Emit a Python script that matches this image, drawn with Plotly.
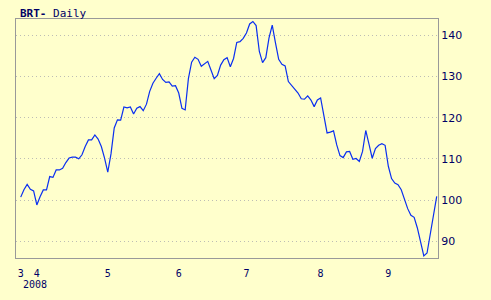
import plotly.graph_objects as go

# Brent daily close, trading-day index from late March to late September 2008
prices = [
    100.7, 102.5, 103.8, 102.6, 102.2, 98.8, 100.8, 102.45, 102.45, 105.7,
    105.5, 107.3, 107.3, 107.7, 109.1, 110.2, 110.4, 110.4, 110.0, 111.0,
    113.0, 114.6, 114.6, 115.8, 114.8, 113.0, 110.2, 106.8, 111.2, 117.5,
    119.5, 119.4, 122.6, 122.4, 122.6, 120.9, 122.3, 122.7, 121.7, 123.3,
    126.4, 128.4, 129.6, 130.7, 129.3, 128.6, 128.7, 127.7, 127.8, 126.0,
    122.3, 121.9, 129.5, 133.5, 134.7, 134.2, 132.5, 133.0, 133.7, 131.6,
    129.5, 130.3, 132.8, 134.1, 134.6, 132.4, 134.4, 138.3, 138.5, 139.3,
    140.6, 142.8, 143.4, 142.4, 136.1, 133.4, 134.6, 139.4, 142.5, 138.2,
    134.2, 133.0, 132.6, 128.8, 127.9, 126.9, 126.0, 124.6, 124.5, 125.3,
    124.3, 122.7, 124.3, 124.8, 120.9, 116.3, 116.5, 116.8, 113.4, 110.8,
    110.3, 111.7, 111.8, 109.9, 110.1, 109.4, 111.8, 116.9, 113.6, 110.15,
    112.5, 113.3, 113.7, 113.3, 108.2, 105.2, 104.1, 103.7, 102.5, 100.2,
    97.9, 96.3, 95.8, 93.2, 89.4, 86.4, 87.1, 91.9, 96.4, 100.9,
]
days = list(range(len(prices)))

month_tick_days = [0, 5, 27, 49, 70, 93, 114]
month_tick_labels = ["3", "4", "5", "6", "7", "8", "9"]
year_label = "2008"

y_ticks = [90, 100, 110, 120, 130, 140]

bg = "#FFFFCC"
navy = "#000066"
font_family = "DejaVu Sans, Verdana, sans-serif"
mono = "DejaVu Sans Mono, monospace"

fig = go.Figure()
fig.add_trace(go.Scatter(
    x=days, y=prices, mode="lines",
    line=dict(color="#0A2FF0", width=1.2),
    hoverinfo="skip", showlegend=False,
))

fig.update_layout(
    width=491, height=300,
    margin=dict(l=16, r=53, t=19, b=42),
    paper_bgcolor=bg, plot_bgcolor=bg,
    font=dict(family=font_family, size=10, color=navy),
    showlegend=False,
)

fig.update_xaxes(
    range=[-1.46, 129.4],
    tickmode="array", tickvals=month_tick_days, ticktext=month_tick_labels,
    showgrid=False, zeroline=False,
    showline=True, linecolor="#999999", linewidth=1, mirror=True,
    ticks="outside", ticklen=6, tickcolor=bg,
    tickfont=dict(family=mono, size=10, color=navy),
)
fig.update_yaxes(
    range=[85.9, 144],
    side="right",
    tickmode="array", tickvals=y_ticks, ticktext=[str(v) for v in y_ticks],
    showgrid=True, gridcolor="#BDBDB5", griddash="1px,3px", gridwidth=1,
    zeroline=False,
    showline=True, linecolor="#999999", linewidth=1, mirror=True,
    ticks="",
    tickfont=dict(family=font_family, size=11, color=navy),
)

fig.add_annotation(
    x=0, xref="x", xanchor="left",
    y=0, yref="paper", yanchor="top", yshift=-19,
    text=year_label, showarrow=False,
    font=dict(family=mono, size=10, color=navy),
)
fig.add_annotation(
    x=0, xref="paper", xanchor="left", xshift=2,
    y=1.0, yref="paper", yanchor="bottom", yshift=-3,
    text="<b>BRT-</b> Daily", showarrow=False,
    font=dict(family=mono, size=11, color=navy),
)

fig.write_html("out.html")
